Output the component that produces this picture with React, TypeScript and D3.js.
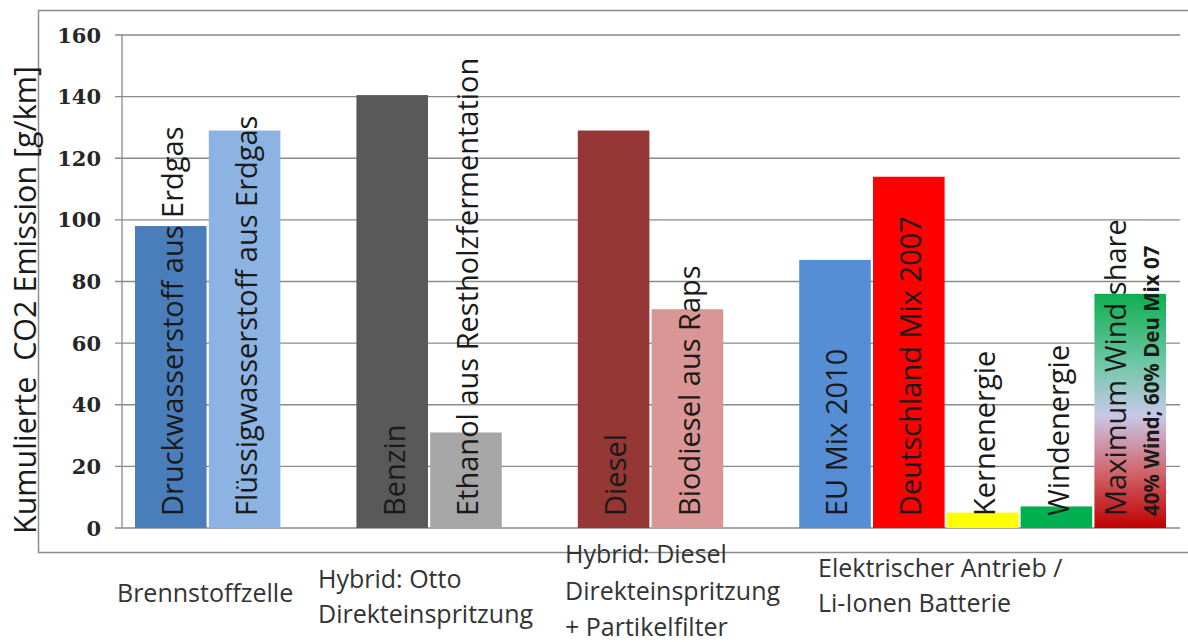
import React from "react";
import * as d3 from "d3";

const barLabels = [
  "Druckwasserstoff aus Erdgas",
  "Flüssigwasserstoff aus Erdgas",
  "Benzin",
  "Ethanol aus Restholzfermentation",
  "Diesel",
  "Biodiesel aus Raps",
  "EU Mix 2010",
  "Deutschland Mix 2007",
  "Kernenergie",
  "Windenergie",
  "Maximum Wind share",
];
const values = [98, 129, 140.5, 31, 129, 71, 87, 114, 5, 7, 76];
const barGroup = [0, 0, 1, 1, 2, 2, 3, 3, 3, 3, 3];
const barColors = [
  "#4a7ebb",
  "#8db3e2",
  "#595959",
  "#a6a6a6",
  "#953735",
  "#d99694",
  "#558ed5",
  "#ff0000",
  "#ffff00",
  "#00b050",
  "url(#windGrad)",
];
const subLabel = "40% Wind; 60% Deu Mix 07";
const yTicks = [0, 20, 40, 60, 80, 100, 120, 140, 160];
const categoryLines = [
  ["Brennstoffzelle"],
  ["Hybrid: Otto", "Direkteinspritzung"],
  ["Hybrid: Diesel", "Direkteinspritzung", "+ Partikelfilter"],
  ["Elektrischer Antrieb /", "Li-Ionen Batterie"],
];
const yTitle = "Kumulierte  CO2 Emission [g/km]";

export default function App() {
  const W = 1188;
  const H = 642;
  const axisX = 122;
  const y = d3.scaleLinear().domain([0, 160]).range([528, 35]);
  const slots = d3.range(14);
  const x = d3
    .scaleBand<number>()
    .domain(slots)
    .range([135, 1166])
    .paddingInner(0.03)
    .paddingOuter(0);
  const font = "'Open Sans', Lato, sans-serif";
  const catX = [117, 318, 565, 818];
  const catY = [[602], [588, 623], [563, 600, 636], [577, 612]];

  return (
    <div style={{ position: "absolute", left: 0, top: 0 }}>
      <svg width={W} height={H} style={{ display: "block", background: "#fff" }}>
        <defs>
          <linearGradient id="windGrad" x1="0" y1="0" x2="0" y2="1">
            <stop offset="0" stopColor="#0fae4f" />
            <stop offset="0.3" stopColor="#6fc7a6" />
            <stop offset="0.52" stopColor="#c8c8e8" />
            <stop offset="0.75" stopColor="#d06a72" />
            <stop offset="1" stopColor="#c00000" />
          </linearGradient>
        </defs>
        <rect x={38.5} y={10.5} width={1160} height={542} fill="none" stroke="#8c8c8c" strokeWidth={1.5} />
        {yTicks.map((t) => (
          <g key={t}>
            <line x1={115} x2={1180} y1={y(t)} y2={y(t)} stroke="#8a8a8a" strokeWidth={1.3} />
            <text
              x={101}
              y={y(t)}
              dy="0.36em"
              textAnchor="end"
              fontFamily="'DejaVu Serif', 'Liberation Serif', serif"
              fontWeight="bold"
              fontSize={21}
              fill="#262626"
            >
              {t}
            </text>
          </g>
        ))}
        <line x1={axisX} x2={axisX} y1={y(160)} y2={y(0)} stroke="#8a8a8a" strokeWidth={1.3} />
        {values.map((v, i) => {
          const slot = i + barGroup[i];
          const bx = x(slot)!;
          const bw = x.bandwidth();
          return (
            <rect key={i} x={bx} y={y(v)} width={bw} height={y(0) - y(v)} fill={barColors[i]} />
          );
        })}
        {barLabels.map((lab, i) => {
          const slot = i + barGroup[i];
          const cx = x(slot)! + x.bandwidth() / 2 + (i === 10 ? -15 : 2);
          const ty = 516;
          return (
            <text
              key={i}
              transform={`translate(${cx},${ty}) rotate(-90)`}
              dy="0.36em"
              fontFamily={font}
              fontSize={29}
              fill="#1a1a1a"
            >
              {lab}
            </text>
          );
        })}
        {(() => {
          const cx = x(13)! + x.bandwidth() / 2 + 21;
          return (
            <text
              transform={`translate(${cx},${516}) rotate(-90)`}
              dy="0.36em"
              fontFamily={font}
              fontWeight="bold"
              fontSize={20.5}
              fill="#1a1a1a"
            >
              {subLabel}
            </text>
          );
        })()}
        <text
          transform={`translate(25,${300}) rotate(-90)`}
          textAnchor="middle"
          dy="0.36em"
          fontFamily={font}
          fontSize={30.5}
          fill="#1a1a1a"
          style={{ whiteSpace: "pre" }}
        >
          {yTitle}
        </text>
        {categoryLines.map((lines, gi) =>
          lines.map((ln, li) => (
            <text
              key={`${gi}-${li}`}
              x={catX[gi]}
              y={catY[gi][li]}
              fontFamily={font}
              fontSize={25}
              fill="#333"
            >
              {ln}
            </text>
          ))
        )}
      </svg>
    </div>
  );
}
